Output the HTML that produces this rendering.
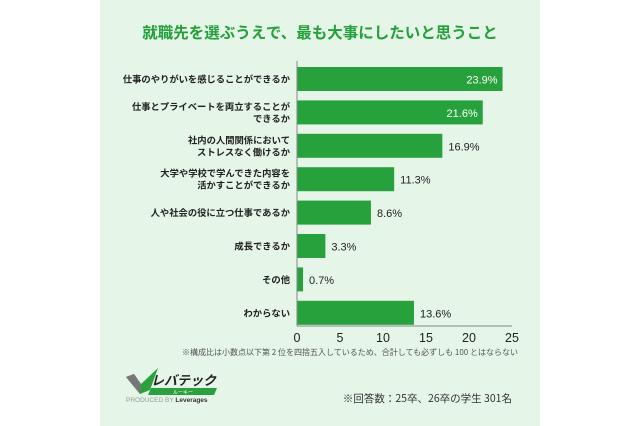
<!DOCTYPE html>
<html><head><meta charset="utf-8"><style>
body{margin:0;width:640px;height:426px;background:#fff;overflow:hidden;font-family:"Liberation Sans","Noto Sans CJK JP",sans-serif}
#panel{position:absolute;left:100px;top:0;width:440px;height:426px;background:#e5f5e8}
</style></head><body>
<div id="panel"></div>
<svg width="640" height="426" style="position:absolute;left:0;top:0">
<text x="320" y="38" text-anchor="middle" font-size="15.5" font-weight="bold" fill="#24a03a" font-family="Noto Sans CJK JP, sans-serif">就職先を選ぶうえで、最も大事にしたいと思うこと</text>
<g id="bars"></g>
<g id="axis"></g>
<text x="518" y="355" text-anchor="end" font-size="8" fill="#555" font-family="Noto Sans CJK JP, sans-serif">※構成比は小数点以下第 2 位を四捨五入しているため、合計しても必ずしも 100 とはならない</text>
<text x="512" y="402" text-anchor="end" font-size="10.5" fill="#333" font-family="Noto Sans CJK JP, sans-serif">※回答数：25卒、26卒の学生 301名</text>
<g>
<polygon points="126,377 134,374 141,384 158,368 150,390 140,394" fill="#2aa13d"/>
<polygon points="126,377 134,374 141,384 140,394" fill="#777"/>
<text x="151" y="385" font-size="13" font-weight="bold" font-style="italic" fill="#222" font-family="Noto Sans CJK JP, sans-serif">レバテック</text>
<polygon points="151,388 217,388 214,395 148,395" fill="#2aa13d"/>
<text x="183" y="394" text-anchor="middle" font-size="5" fill="#fff" font-family="Noto Sans CJK JP, sans-serif">ルーキー</text>
<text x="126" y="402" font-size="6.5" fill="#999">PRODUCED BY <tspan fill="#333" font-weight="bold">Leverages</tspan></text>
</g>
</svg>
<script>
const categories=[["仕事のやりがいを感じることができるか"],["仕事とプライベートを両立することが","できるか"],["社内の人間関係において","ストレスなく働けるか"],["大学や学校で学んできた内容を","活かすことができるか"],["人や社会の役に立つ仕事であるか"],["成長できるか"],["その他"],["わからない"]];
const values=[23.9,21.6,16.9,11.3,8.6,3.3,0.7,13.6];
const ticks=[0,5,10,15,20,25];
const ns="http://www.w3.org/2000/svg";
const x0=297,x1=512,max=25,yTop=79,step=33.4,bh=24;
const xs=v=>x0+(x1-x0)*v/max, ys=i=>yTop+i*step;
function mk(t,a,p){const e=document.createElementNS(ns,t);for(const k in a)e.setAttribute(k,a[k]);p.appendChild(e);return e;}
const g=document.getElementById('bars'),ax=document.getElementById('axis');
values.forEach((v,i)=>{
 const r=mk('rect',{x:x0,y:ys(i)-bh/2,width:xs(v)-x0,height:bh,fill:'#26a13b'},g);
 
 
 const inside=v>20;
 const t=mk('text',{x:inside?xs(v)-5:xs(v)+6,y:ys(i)+4.5,'text-anchor':inside?'end':'start','font-size':11,fill:inside?'#fff':'#222'},g);
 t.textContent=v.toFixed(1)+'%';
 
 
 const lines=categories[i];
 lines.forEach((s,j)=>{
  const c=mk('text',{x:290,y:ys(i)+3.5+(j-(lines.length-1)/2)*12,'text-anchor':'end','font-size':9.3,'font-weight':'bold',fill:'#222','font-family':'Noto Sans CJK JP, sans-serif'},g);
  c.textContent=s;
  
  
 });
});
const yl=mk('line',{x1:x0,y1:yTop-bh/2-6,x2:x0,y2:326,stroke:'#888','stroke-width':1},ax);


const xl=mk('line',{x1:x0,y1:326,x2:x1,y2:326,stroke:'#888','stroke-width':1},ax);


ticks.forEach(v=>{
 const t=mk('text',{x:xs(v),y:342,'text-anchor':'middle','font-size':12.5,fill:'#222'},ax);
 t.textContent=v;
 
 
});
</script>
</body></html>
